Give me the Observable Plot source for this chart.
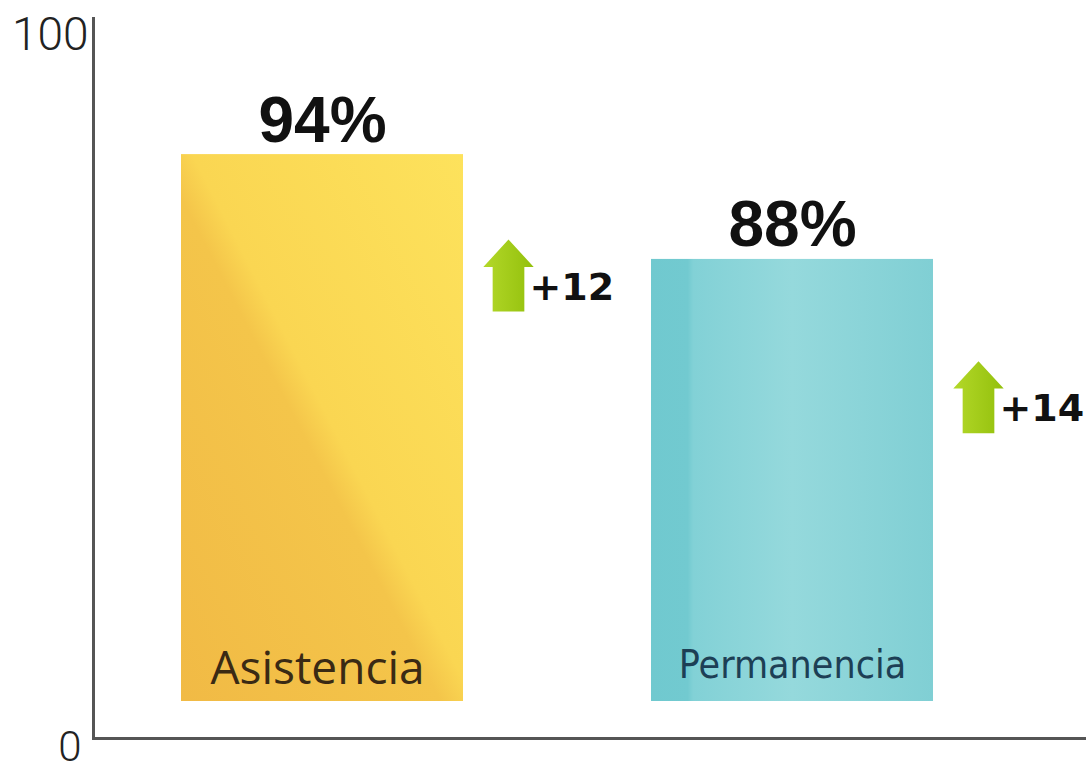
<!DOCTYPE html>
<html>
<head>
<meta charset="utf-8">
<script src="https://cdn.jsdelivr.net/npm/d3@7"></script>
<script src="https://cdn.jsdelivr.net/npm/@observablehq/plot@0.6"></script>
<style>
  html, body { margin: 0; padding: 0; background: #fff; overflow: hidden; }
  #chart svg { display: block; }
  g[aria-label="change"] text, g[aria-label="pct"] text { font-stretch: condensed; }
</style>
</head>
<body>
<div id="chart"></div>
<script>
// ---- data ----
const categories = ["Asistencia", "Permanencia"];
const values = [94, 88];
const valueLabels = ["94%", "88%"];
const changes = ["+12", "+14"];
const arrowLevels = [87, 78.6];   // vertical level of the change arrows (estimated)
const yTicks = [0, 100];

const rows = categories.map((c, i) => ({
  cat: c, value: values[i], label: valueLabels[i], change: changes[i], level: arrowLevels[i],
  fill: i === 0 ? "url(#gAsis)" : "url(#gPerm)"
}));

const blockArrow = {
  draw(ctx, l) {
    const hw = l * 0.35, sw = l * 0.22, hh = l * 0.38;
    ctx.moveTo(-sw, 0);
    ctx.lineTo(-sw, -l + hh);
    ctx.lineTo(-hw, -l + hh);
    ctx.lineTo(0, -l);
    ctx.lineTo(hw, -l + hh);
    ctx.lineTo(sw, -l + hh);
    ctx.lineTo(sw, 0);
    ctx.closePath();
  }
};

const chart = Plot.plot({
  width: 1086,
  height: 772,
  marginLeft: 93,
  marginRight: 0,
  marginTop: 18,
  marginBottom: 34,
  style: { background: "#fff", overflow: "visible" },
  x: { type: "band", domain: categories, paddingInner: 0.4, paddingOuter: 0.255, align: 0.366, axis: null },
  y: { type: "pow", exponent: 3, domain: [0, 100], range: [738, 35], axis: null },
  marks: [
    Plot.rectY(rows, { x: "cat", y1: 0, y2: "value", fill: "fill", insetBottom: 37 }),
    Plot.frame({ anchor: "left", stroke: "#555", strokeWidth: 3 }),
    Plot.frame({ anchor: "bottom", stroke: "#555", strokeWidth: 3 }),
    Plot.axisY(yTicks.filter(d => d === 100), {
      tickSize: 0, tickPadding: 5, fontSize: 46, fontFamily: "Roboto, sans-serif", fontWeight: 300, fill: "#222"
    }),
    Plot.axisY(yTicks.filter(d => d === 0), {
      tickSize: 0, tickPadding: 12, dy: 9, fontSize: 42, fontFamily: "Roboto, sans-serif", fontWeight: 300, fill: "#222"
    }),
    Plot.text(rows, {
      x: "cat", y: "value", text: "label", lineAnchor: "bottom", dy: -13, ariaLabel: "pct",
      fontSize: 64, fontWeight: "bold", fontFamily: "Liberation Sans, Arial, sans-serif", fill: "#111"
    }),
    Plot.text(rows.filter(d => d.cat === "Asistencia"), {
      x: "cat", y: 0, text: "cat", lineAnchor: "bottom", dy: -55, dx: -5,
      fontSize: 46, fontFamily: "Open Sans, sans-serif", fill: "#3a2a14"
    }),
    Plot.text(rows.filter(d => d.cat === "Permanencia"), {
      x: "cat", y: 0, text: "cat", lineAnchor: "bottom", dy: -61,
      fontSize: 39, fontFamily: "DejaVu Sans Condensed, DejaVu Sans, sans-serif", fill: "#1d3f55"
    }),
    Plot.vector(rows, {
      x: "cat", y: "level", length: 72, rotate: 0, anchor: "middle", dx: 186,
      shape: blockArrow, fill: "url(#gArrow)", stroke: "none"
    }),
    Plot.text(rows, {
      x: "cat", y: "level", text: "change", textAnchor: "start", lineAnchor: "middle", dx: 207, dy: 12,
      ariaLabel: "change",
      fontSize: 38, fontWeight: "bold",
      fontFamily: "DejaVu Sans, sans-serif", fill: "#111"
    })
  ]
});

d3.select(chart).insert("defs", ":first-child").html(`
  <linearGradient id="gAsis" x1="0" y1="1" x2="1" y2="0">
    <stop offset="0" stop-color="#f1ba45"/>
    <stop offset="0.46" stop-color="#f4c54a"/>
    <stop offset="0.52" stop-color="#fad652"/>
    <stop offset="1" stop-color="#fde25c"/>
  </linearGradient>
  <linearGradient id="gPerm" x1="0" y1="0" x2="1" y2="0">
    <stop offset="0" stop-color="#70c9cf"/>
    <stop offset="0.13" stop-color="#72cad0"/>
    <stop offset="0.15" stop-color="#82d1d6"/>
    <stop offset="0.5" stop-color="#95d9dc"/>
    <stop offset="1" stop-color="#80cfd4"/>
  </linearGradient>
  <linearGradient id="gArrow" x1="0" y1="0" x2="1" y2="0">
    <stop offset="0" stop-color="#b3d829"/>
    <stop offset="1" stop-color="#93c00c"/>
  </linearGradient>
`);

document.getElementById("chart").appendChild(chart);
</script>
</body>
</html>
